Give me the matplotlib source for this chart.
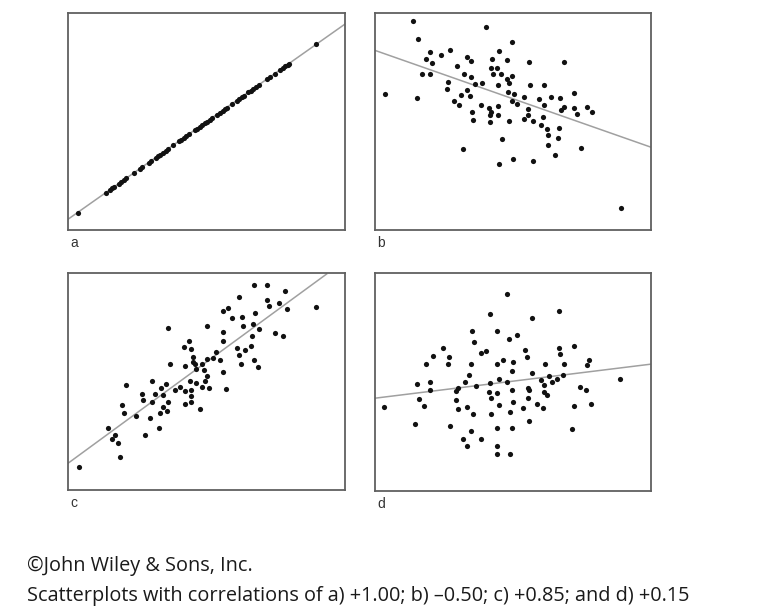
import matplotlib
matplotlib.use("Agg")
import matplotlib.pyplot as plt
import numpy as np

# ---- data (arbitrary units) ----
a_x = [55, 140, 150, 158, 163, 178, 185, 192, 200, 223, 242, 248, 268, 275, 288, 295, 302, 310,
       318, 325, 340, 357, 365, 372, 380, 388, 405, 412, 420, 428, 435, 442, 450, 457, 472, 480,
       488, 495, 502, 517, 530, 538, 545, 552, 565, 572, 580, 588, 597, 622, 630, 645, 660, 668,
       675, 683, 688, 768]
a_y = [621, 561, 553, 548, 544, 534, 529, 524, 518, 502, 489, 485, 471, 466, 457, 452, 447, 441,
       436, 431, 420, 408, 403, 398, 392, 387, 375, 370, 364, 358, 354, 349, 343, 338, 328, 322,
       316, 312, 307, 296, 287, 281, 276, 272, 262, 258, 252, 246, 240, 222, 217, 206, 194, 188,
       183, 180, 177, 118]

b_pts = [(145,48), (363,66), (160,103), (440,113), (195,142), (255,135), (228,152), (403,140),
         (183,163), (202,176), (305,157), (318,170), (380,164), (425,166), (492,173), (596,173),
         (277,183), (378,191), (397,191), (170,208), (195,208), (297,208), (385,208), (407,208),
         (440,213), (318,217), (425,222), (250,232), (432,236), (330,238), (350,236), (398,241),
         (496,242), (538,241), (245,253), (305,257), (60,268), (157,279), (288,270), (315,273),
         (428,263), (448,267), (476,276), (557,276), (585,280), (626,266), (268,290), (282,300),
         (442,290), (455,297), (522,284), (538,301), (347,300), (398,304), (372,311), (488,314),
         (378,323), (597,307), (587,317), (627,311), (636,327), (667,307), (680,321), (320,322),
         (376,332), (398,331), (489,330), (325,345), (375,351), (432,348), (478,342), (503,348),
         (535,338), (528,361), (545,372), (583,370), (550,389), (578,398), (410,402), (293,433),
         (549,421), (647,430), (571,451), (445,462), (503,469), (403,477), (768,608)]

c_pts = [(582,62), (620,62), (675,79), (538,97), (620,106), (657,116), (627,124), (768,127),
         (488,140), (503,130), (680,134), (515,159), (545,158), (586,146), (325,191), (440,185),
         (549,185), (578,178), (596,192), (490,202), (646,205), (670,214), (575,215), (387,230),
         (490,230), (373,246), (395,253), (530,250), (573,245), (555,257), (468,262), (400,276),
         (538,270), (458,279), (440,284), (479,286), (332,299), (375,303), (400,292), (407,298),
         (428,299), (582,286), (542,297), (410,314), (433,315), (595,308), (490,322), (440,334),
         (278,348), (200,360), (318,357), (392,348), (408,355), (435,350), (303,370), (360,367),
         (345,376), (375,378), (393,375), (427,366), (447,369), (497,372), (248,386), (285,387),
         (310,390), (249,405), (276,410), (326,412), (393,394), (393,412), (186,419), (310,425),
         (376,418), (420,431), (194,445), (300,444), (322,438), (229,452), (270,459), (144,490),
         (297,490), (166,510), (256,510), (157,522), (174,533), (180,577), (58,605)]

d_pts = [(425,89), (583,139), (376,147), (500,161), (320,200), (396,200), (455,210), (431,224),
         (327,231), (233,250), (627,243), (582,251), (480,257), (362,258), (348,264), (585,267),
         (203,273), (252,277), (486,277), (673,285), (183,298), (248,298), (318,299), (396,298),
         (414,287), (445,293), (541,298), (596,299), (665,300), (441,320), (500,324), (313,330),
         (553,335), (595,330), (575,342), (403,343), (528,347), (560,351), (156,356), (196,352),
         (300,352), (376,355), (425,351), (765,342), (333,362), (537,360), (489,368), (646,367),
         (196,375), (280,370), (273,378), (441,374), (493,376), (664,375), (372,381), (396,385),
         (537,382), (545,391), (162,402), (272,406), (377,399), (489,398), (176,423), (403,419),
         (445,412), (515,416), (627,422), (678,416), (58,426), (279,432), (307,427), (473,430),
         (535,430), (324,448), (377,447), (434,441), (493,468), (150,476), (255,484), (396,489),
         (441,490), (620,492), (318,497), (293,521), (347,521), (307,543), (396,543), (396,566),
         (434,566)]

# fitted lines: (x0, y0, x1, y1) endpoints of each trend line
line_a = (25, 640, 855, 58)
line_b = (30, 137, 858, 427)
line_c = (25, 595, 800, 28)
line_d = (30, 400, 858, 298)

# panel extents (xmin, xmax, ymin, ymax)
ext_a = (25, 855, 25, 672)
ext_b = (30, 858, 25, 675)
ext_c = (25, 855, 25, 675)
ext_d = (30, 858, 25, 678)

labels = ["a", "b", "c", "d"]
caption1 = "\u00a9John Wiley & Sons, Inc."
caption2 = "Scatterplots with correlations of a) +1.00; b) \u20130.50; c) +0.85; and d) +0.15"

W, H = 770, 616
fig = plt.figure(figsize=(W / 100, H / 100), dpi=100)

boxes = [(68, 13, 345, 230), (375, 13, 651, 230), (68, 273, 345, 490), (375, 273, 651, 491)]

panels = [
    (list(a_x), list(a_y), line_a, ext_a),
    ([p[0] for p in b_pts], [p[1] for p in b_pts], line_b, ext_b),
    ([p[0] for p in c_pts], [p[1] for p in c_pts], line_c, ext_c),
    ([p[0] for p in d_pts], [p[1] for p in d_pts], line_d, ext_d),
]

for (l, t, r, b), (xs, ys, ln, ext), lab in zip(boxes, panels, labels):
    ax = fig.add_axes([l / W, 1 - b / H, (r - l) / W, (b - t) / H])
    ax.plot([ln[0], ln[2]], [ln[1], ln[3]], color="#a0a0a0", lw=1.1, zorder=1)
    ax.scatter(xs, ys, s=14, color="#111111", zorder=2, linewidths=0)
    ax.set_xlim(ext[0], ext[1])
    ax.set_ylim(ext[3], ext[2])
    ax.set_xticks([])
    ax.set_yticks([])
    for sp in ax.spines.values():
        sp.set_color("#606060")
        sp.set_linewidth(1.3)
    fig.text((l + 2) / W, 1 - (b + 13) / H, lab, fontsize=10,
             family=["Liberation Sans Narrow", "Liberation Sans", "DejaVu Sans"],
             color="#333333", ha="left", va="center")

fig.text(27 / W, 1 - 566 / H, caption1, fontsize=14.3, family="Open Sans",
         color="#1a1a1a", ha="left", va="center")
fig.text(27 / W, 1 - 596 / H, caption2, fontsize=14.3, family="Open Sans",
         color="#1a1a1a", ha="left", va="center")

fig.savefig("out.png", dpi=100, facecolor="white")
